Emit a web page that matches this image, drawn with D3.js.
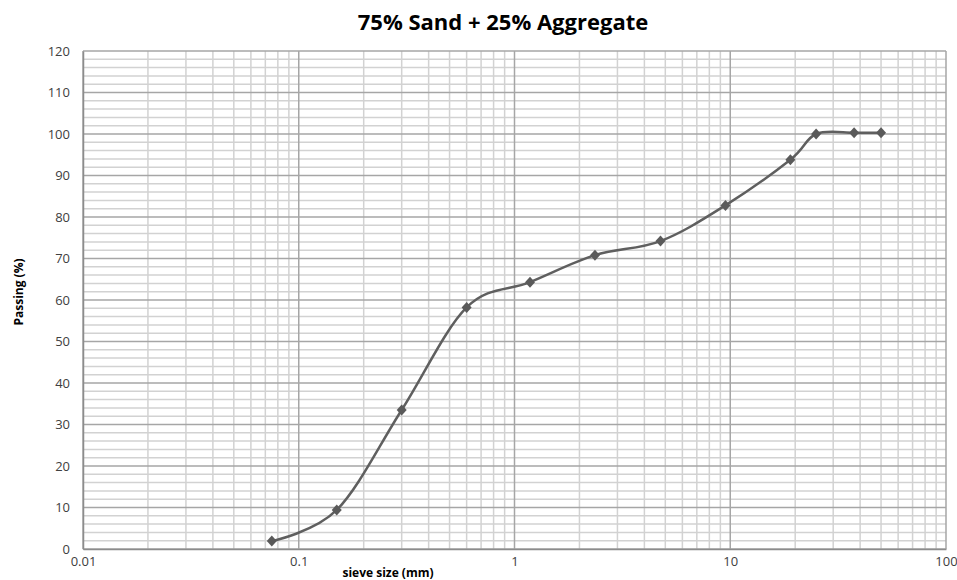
<!DOCTYPE html>
<html>
<head>
<meta charset="utf-8">
<script src="https://cdn.jsdelivr.net/npm/d3@7"></script>
<style>
  html, body { margin: 0; padding: 0; background: #fff; }
  svg text { font-family: "Open Sans", "Liberation Sans", sans-serif; }
</style>
</head>
<body>
<svg id="chart" width="957" height="580"></svg>
<script>
// ---- data ----
const sieveSizes = [0.075, 0.15, 0.3, 0.6, 1.18, 2.36, 4.75, 9.5, 19, 25, 37.5, 50];
const passing    = [1.9, 9.4, 33.5, 58.2, 64.3, 70.8, 74.2, 82.8, 93.8, 100.0, 100.3, 100.3];
const xTickValues = [0.01, 0.1, 1, 10, 100];
const xTickLabels = ["0.01", "0.1", "1", "10", "100"];
const yTickValues = [0, 10, 20, 30, 40, 50, 60, 70, 80, 90, 100, 110, 120];
const title = "75% Sand + 25% Aggregate";
const xTitle = "sieve size (mm)";
const yTitle = "Passing (%)";

// ---- layout ----
const svg = d3.select("#chart");
const pLeft = 83, pRight = 946, pTop = 51, pBottom = 549;

const x = d3.scaleLog().domain([0.01, 100]).range([pLeft, pRight]);
const y = d3.scaleLinear().domain([0, 120]).range([pBottom, pTop]);

const g = svg.append("g");

// minor vertical grid (2..9 per decade)
const minorX = [];
for (let e = -2; e < 2; e++) {
  for (let m = 2; m <= 9; m++) minorX.push(m * Math.pow(10, e));
}
g.selectAll(".vminor").data(minorX).enter().append("line")
  .attr("x1", d => x(d)).attr("x2", d => x(d))
  .attr("y1", pTop).attr("y2", pBottom)
  .attr("stroke", "#d2d2d2").attr("stroke-width", 1.5);

// minor horizontal grid every 2
const minorY = d3.range(0, 121, 2).filter(v => v % 10 !== 0);
g.selectAll(".hminor").data(minorY).enter().append("line")
  .attr("x1", pLeft).attr("x2", pRight)
  .attr("y1", d => y(d)).attr("y2", d => y(d))
  .attr("stroke", "#d2d2d2").attr("stroke-width", 1.5);

// major horizontal grid
g.selectAll(".hmajor").data(yTickValues).enter().append("line")
  .attr("x1", pLeft).attr("x2", pRight)
  .attr("y1", d => y(d)).attr("y2", d => y(d))
  .attr("stroke", "#a6a6a6").attr("stroke-width", 1.5);

// major vertical grid
g.selectAll(".vmajor").data(xTickValues).enter().append("line")
  .attr("x1", d => x(d)).attr("x2", d => x(d))
  .attr("y1", pTop).attr("y2", pBottom)
  .attr("stroke", "#a6a6a6").attr("stroke-width", 1.5);

// axes via d3
const xAxis = d3.axisBottom(x).tickValues(xTickValues)
  .tickFormat((d, i) => xTickLabels[i]).tickSize(0).tickPadding(8);
const xg = svg.append("g").attr("transform", `translate(0,${pBottom})`).call(xAxis);
xg.select(".domain").attr("stroke", "#8c8c8c").attr("stroke-width", 1.5);
xg.selectAll("text").attr("font-size", 13).attr("fill", "#404040");

const yAxis = d3.axisLeft(y).tickValues(yTickValues).tickSize(0).tickPadding(13);
const yg = svg.append("g").attr("transform", `translate(${pLeft},0)`).call(yAxis);
yg.select(".domain").attr("stroke", "#8c8c8c").attr("stroke-width", 1.5);
yg.selectAll("text").attr("font-size", 13).attr("fill", "#404040");

// curve
const pts = sieveSizes.map((s, i) => [s, passing[i]]);
const line = d3.line().x(d => x(d[0])).y(d => y(d[1]))
  .curve(d3.curveCardinal.tension(0));
svg.append("path").datum(pts).attr("d", line)
  .attr("fill", "none").attr("stroke", "#5f5f5f").attr("stroke-width", 2.5);

// markers
svg.selectAll(".mk").data(pts).enter().append("path")
  .attr("transform", d => `translate(${x(d[0])},${y(d[1])})`)
  .attr("d", "M0,-5.5L5,0L0,5.5L-5,0Z")
  .attr("fill", "#5a5a5a");

// titles
svg.append("text").attr("x", 503).attr("y", 30).attr("text-anchor", "middle")
  .attr("font-size", 22).attr("font-weight", "bold").attr("fill", "#000").text(title);
svg.append("text").attr("x", 388).attr("y", 577).attr("text-anchor", "middle")
  .attr("font-size", 12).attr("font-weight", "bold").attr("fill", "#000").text(xTitle);
svg.append("text").attr("transform", "translate(23,292) rotate(-90)").attr("text-anchor", "middle")
  .attr("font-size", 12).attr("font-weight", "bold").attr("fill", "#000").text(yTitle);
</script>
</body>
</html>
